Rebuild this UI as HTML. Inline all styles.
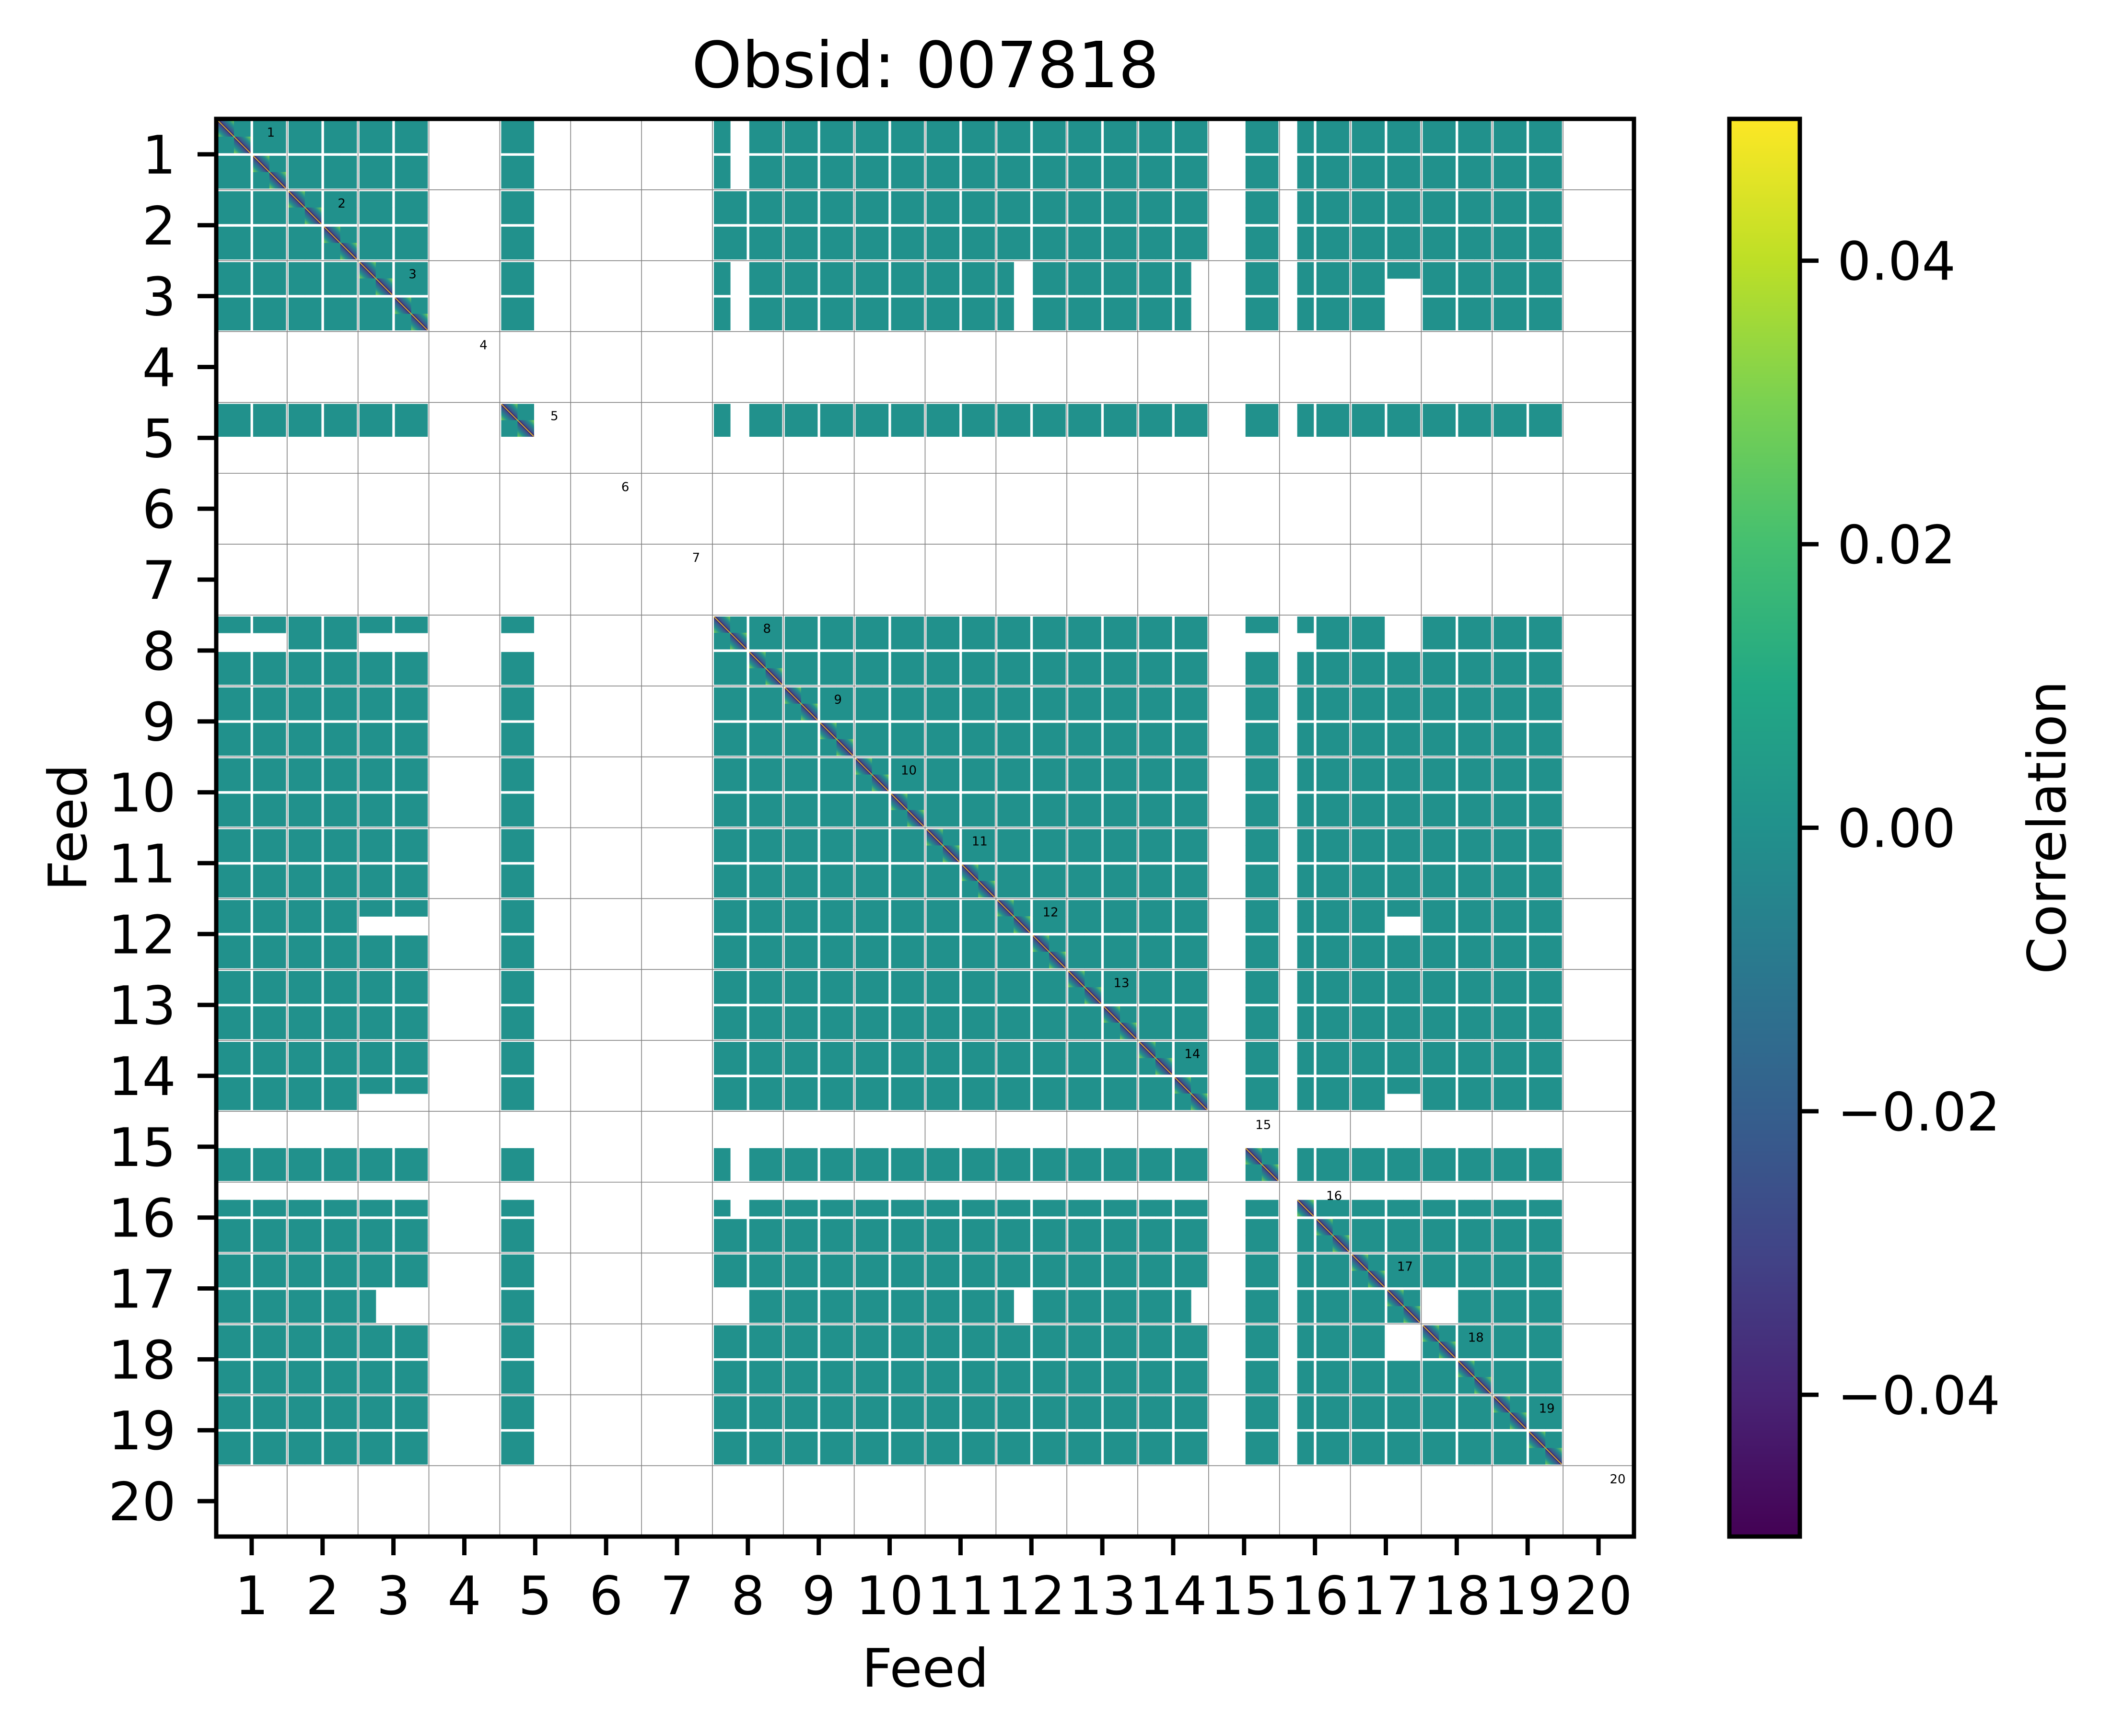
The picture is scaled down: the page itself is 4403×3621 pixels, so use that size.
<!DOCTYPE html>
<html><head><meta charset="utf-8"><style>
html,body{margin:0;padding:0;background:#fff;}
svg{display:block;font-family:"DejaVu Sans","Liberation Sans",sans-serif;}
</style></head><body>
<svg id="chart" width="4403" height="3621" viewBox="0 0 4403 3621" xmlns="http://www.w3.org/2000/svg">
<defs>
<linearGradient id="viridis" x1="0" y1="1" x2="0" y2="0">
<stop offset="0" stop-color="#440154"/><stop offset="0.1" stop-color="#482475"/><stop offset="0.2" stop-color="#414487"/><stop offset="0.3" stop-color="#355f8d"/><stop offset="0.4" stop-color="#2a788e"/><stop offset="0.5" stop-color="#21918c"/><stop offset="0.6" stop-color="#22a884"/><stop offset="0.7" stop-color="#44bf70"/><stop offset="0.8" stop-color="#7ad151"/><stop offset="0.9" stop-color="#bddf26"/><stop offset="1" stop-color="#fde725"/>
</linearGradient>
<linearGradient id="diag" x1="0" y1="1" x2="1" y2="0">
<stop offset="0" stop-color="#7ad151"/><stop offset="0.2" stop-color="#21918c"/><stop offset="0.42" stop-color="#3b528b"/><stop offset="0.5" stop-color="#440154"/><stop offset="0.58" stop-color="#3b528b"/><stop offset="0.8" stop-color="#21918c"/><stop offset="1" stop-color="#7ad151"/>
</linearGradient>
</defs>
<g id="cells"></g>
<g id="grid"></g>
<g id="flabels"></g>
<rect x="451" y="248" width="2957" height="2957" fill="none" stroke="#000" stroke-width="9"/>
<g id="axes"></g>
<text x="1930" y="182" font-size="133" text-anchor="middle">Obsid: 007818</text>
<text x="1930" y="3518" font-size="111" text-anchor="middle">Feed</text>
<text x="0" y="0" font-size="111" text-anchor="middle" transform="translate(180,1726) rotate(-90)">Feed</text>
<rect x="3607" y="248" width="147" height="2957" fill="url(#viridis)" stroke="#000" stroke-width="9"/>
<g id="cbaxis"></g>
<text x="0" y="0" font-size="111" text-anchor="middle" transform="translate(4308,1726) rotate(-90)">Correlation</text>
</svg>
<script>
const feeds = [1,2,3,4,5,6,7,8,9,10,11,12,13,14,15,16,17,18,19,20];
const bandMasks = ["1111","1111","1111","0000","1100","0000","0000","1111","1111","1111","1111","1111","1111","1111","0011","0111","1111","1111","1111","0000"];
const holeRows = [[29],[66,67],[45],[55]];
const holeCols = [[0,1,2,3,8,9,10,11,16,17,18,19,56,57,58,59,60,61],[9,10,11,28,29,45,55,68,69],[8,9,10,11],[8,9,10,11]];
const cbTicks = [-0.04,-0.02,0.00,0.02,0.04];
const cbLabels = ["\u22120.04","\u22120.02","0.00","0.02","0.04"];
const cbMin = -0.05, cbMax = 0.05;

const NS="http://www.w3.org/2000/svg";
const L=451,T=248,W=2957,H=2957,N=feeds.length;
const cw=W/N, ch=H/N;
function xFeed(i){return L+i*cw;}
function yFeed(i){return T+i*ch;}
function yCb(v){return T+H-(v-cbMin)/(cbMax-cbMin)*H;}
function mk(tag,attrs,parent){const e=document.createElementNS(NS,tag);for(const k in attrs)e.setAttribute(k,attrs[k]);parent.appendChild(e);return e;}

const present=[];
bandMasks.forEach(m=>{for(const c of m)present.push(c==="1");});
const NB=present.length;
const hole=new Set();
holeRows.forEach((rs,k)=>{rs.forEach(a=>holeCols[k].forEach(b=>{hole.add(a+","+b);hole.add(b+","+a);}));});
function on(a,b){return present[a]&&present[b]&&!hole.has(a+","+b);}
function bandPos(b,isX){
  const f=Math.floor(b/4),k=b%4,h=Math.floor(k/2),q=k%2;
  const size=isX?cw:ch;
  const start=(isX?xFeed(f):yFeed(f))+h*size/2+3;
  const sub=size/2-6;
  return [start+q*sub/2, sub/2];
}
const cells=document.getElementById('cells');
for(let r=0;r<NB;r++){
  for(let c=0;c<NB;c++){
    if(!on(r,c))continue;
    const [x,w]=bandPos(c,true),[y,h]=bandPos(r,false);
    const diag=(r===c);
    const rect=mk('rect',{x:x.toFixed(1),y:y.toFixed(1),width:(w+0.6).toFixed(1),height:(h+0.6).toFixed(1),fill:diag?'url(#diag)':'#21918c'},cells);
    
    
    if(diag){
      const ln=mk('line',{x1:x,y1:y,x2:x+w,y2:y+h,stroke:'#fde725','stroke-width':1.5},cells);
      
      
    }
  }
}
const grid=document.getElementById('grid');
for(let i=1;i<N;i++){
  const v=mk('line',{x1:xFeed(i),y1:T,x2:xFeed(i),y2:T+H,stroke:'#808080','stroke-width':1.6},grid);
  
  
  const h=mk('line',{x1:L,y1:yFeed(i),x2:L+W,y2:yFeed(i),stroke:'#808080','stroke-width':1.6},grid);
  
  
}
const fl=document.getElementById('flabels');
feeds.forEach((f,i)=>{
  const t=mk('text',{x:xFeed(i)+cw*0.77,y:yFeed(i)+37,'font-size':26,'text-anchor':'middle'},fl);
  t.textContent=f;
  
  
});
const ax=document.getElementById('axes');
feeds.forEach((f,i)=>{
  const cx=xFeed(i)+cw/2, cy=yFeed(i)+ch/2;
  const tx=mk('line',{x1:cx,y1:T+H,x2:cx,y2:T+H+39,stroke:'#000','stroke-width':9},ax);
  
  
  const lx=mk('text',{x:cx,y:3367,'font-size':111,'text-anchor':'middle'},ax);
  lx.textContent=f;
  
  
  const ty=mk('line',{x1:L-39,y1:cy,x2:L,y2:cy,stroke:'#000','stroke-width':9},ax);
  
  
  const ly=mk('text',{x:367,y:cy+40,'font-size':111,'text-anchor':'end'},ax);
  ly.textContent=f;
  
  
});
const cb=document.getElementById('cbaxis');
cbTicks.forEach((v,i)=>{
  const y=yCb(v);
  const t=mk('line',{x1:3754,y1:y,x2:3793,y2:y,stroke:'#000','stroke-width':9},cb);
  
  
  const l=mk('text',{x:3832,y:y+40,'font-size':111},cb);
  l.textContent=cbLabels[i];
  
  
});
</script>
</body></html>
